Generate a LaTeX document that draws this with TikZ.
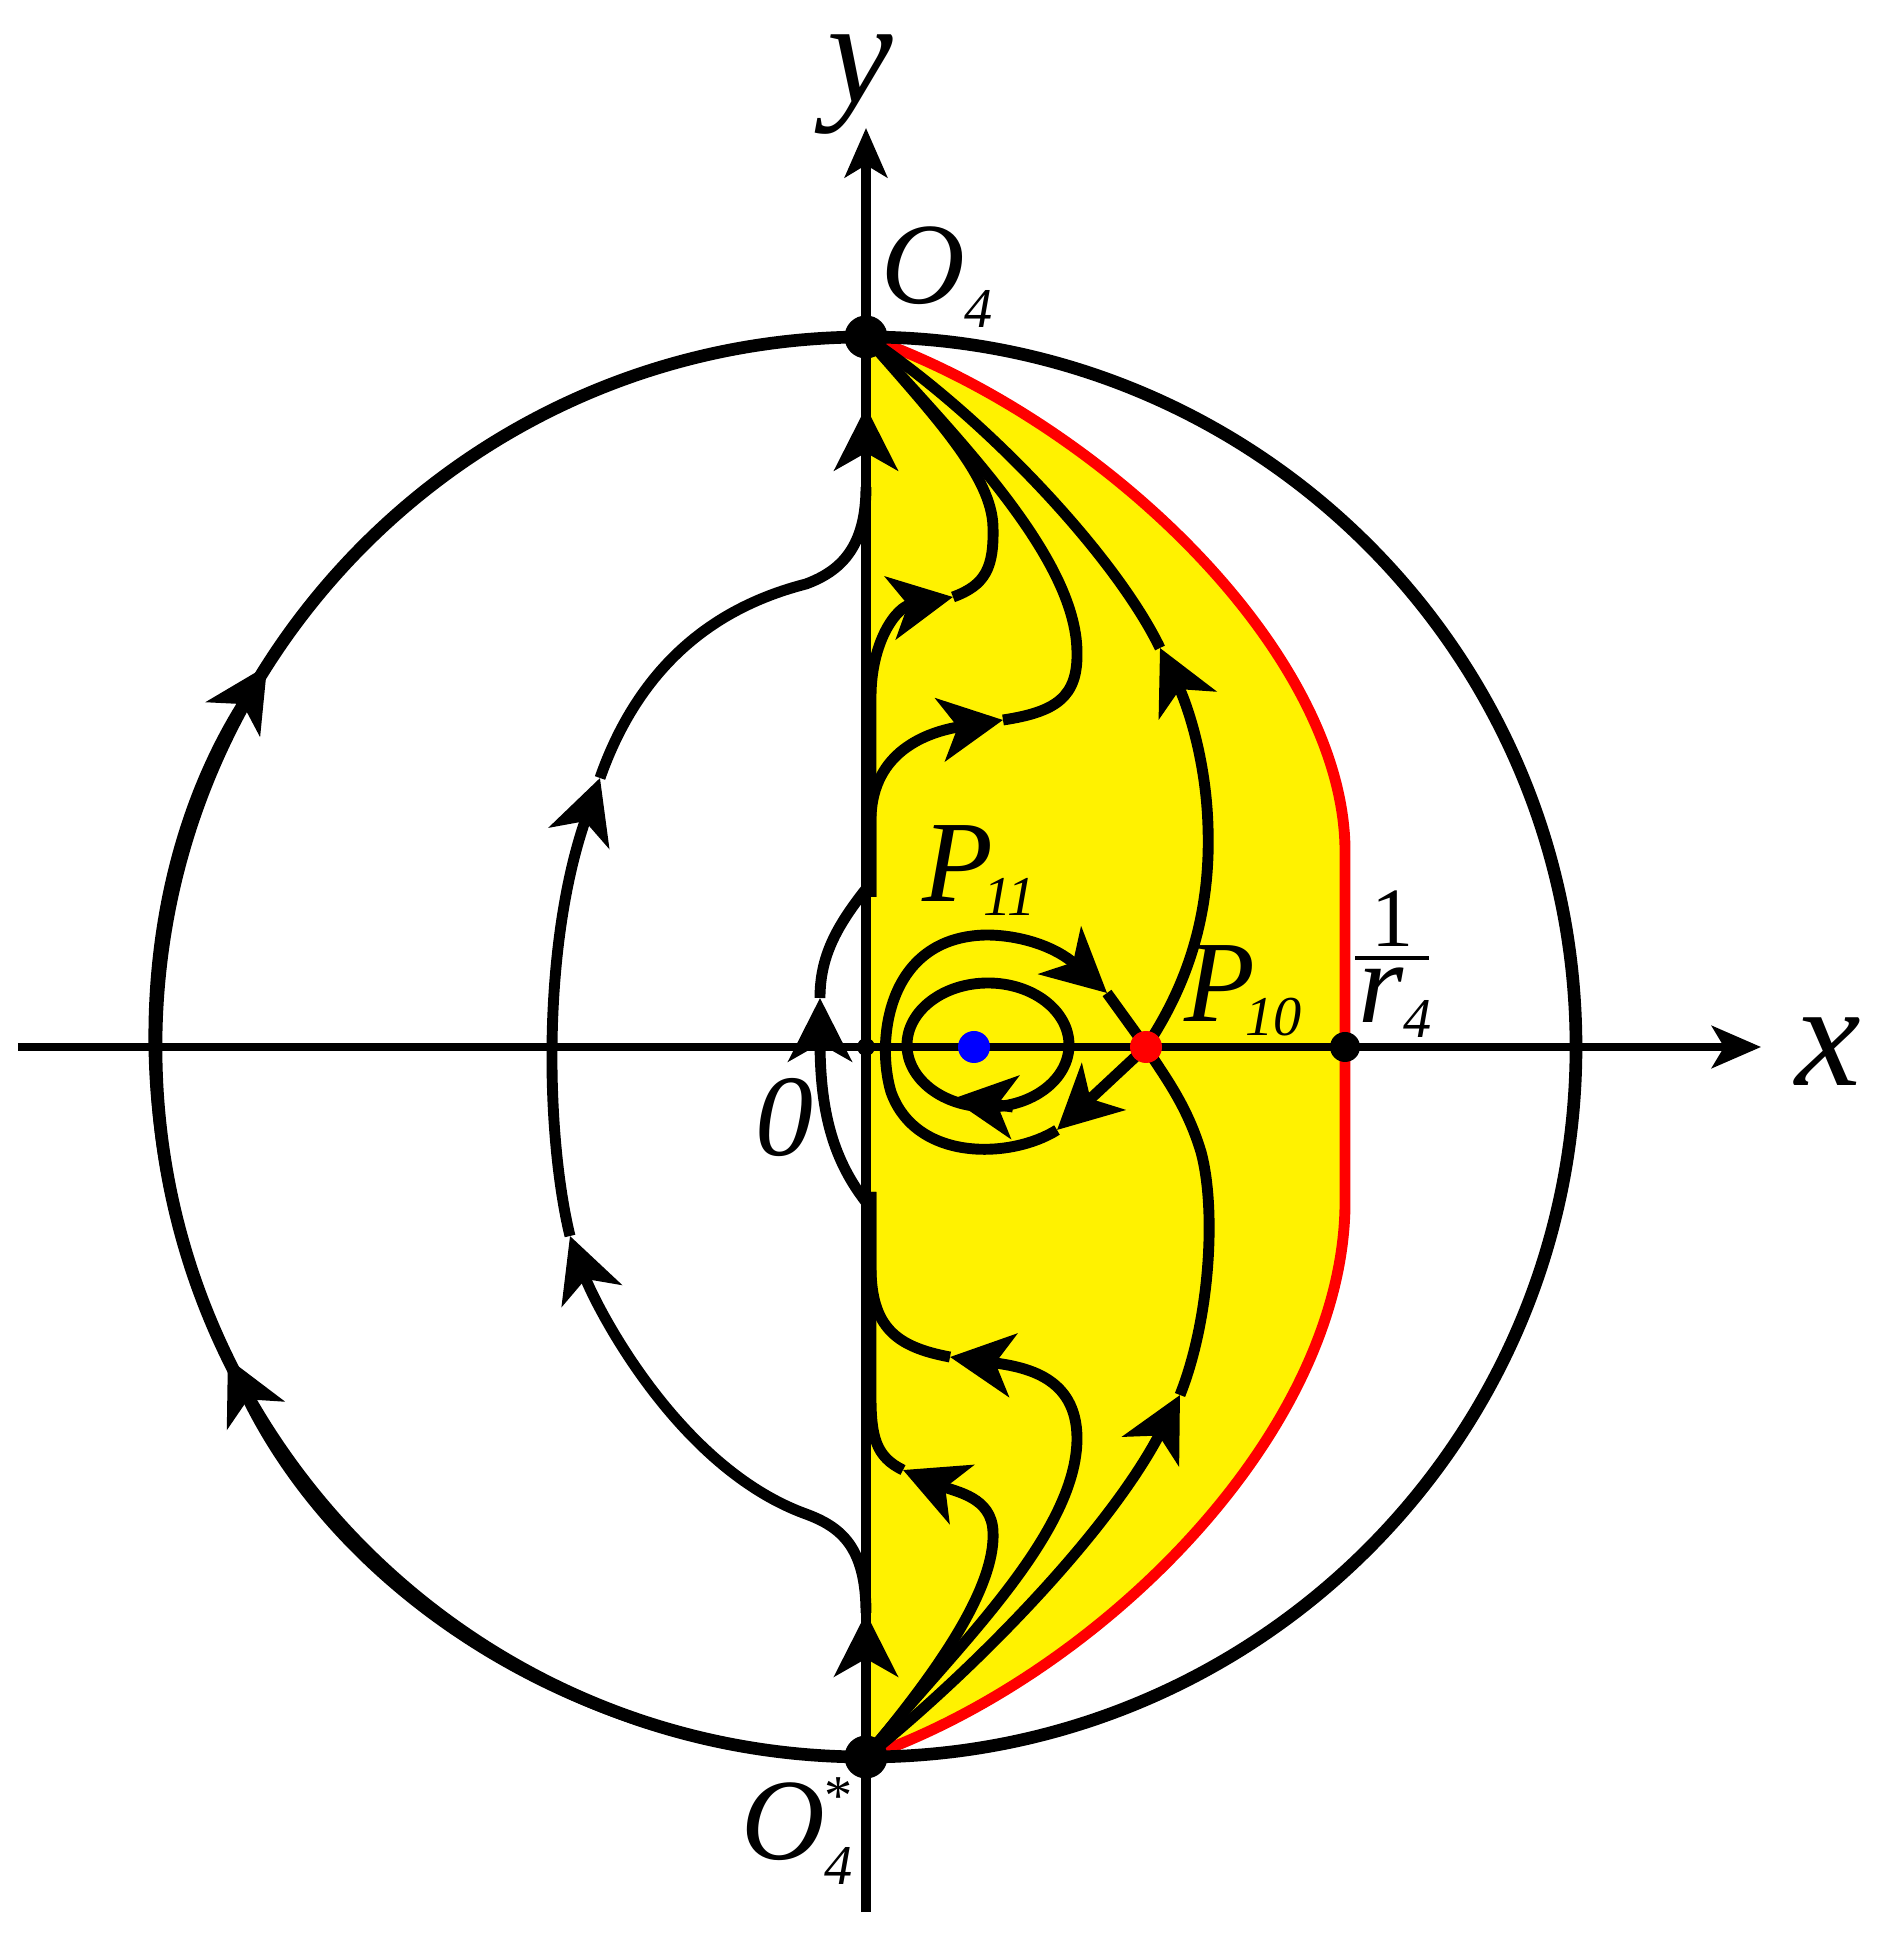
\documentclass[tikz,border=0pt]{standalone}
\usepackage{fontspec}
\setmainfont{Liberation Serif}
\usetikzlibrary{arrows.meta}
\newcommand{\lsub}[2][4pt]{\raisebox{-#1}{\fontsize{16}{16}\selectfont\itshape #2}}
\newcommand{\lsubsup}[2]{\rlap{\raisebox{13pt}{\fontsize{16}{16}\selectfont\upshape #2}}\lsub[7pt]{#1}}

\begin{document}
\begin{tikzpicture}[
  traj/.style={line width=3.1pt},
  tip/.style={-{Stealth[length=18pt,width=18pt,inset=5pt]}},
  axtip/.style={-{Stealth[length=14pt,width=12pt,inset=3.5pt]}},
  lab/.style={font=\fontsize{33}{40}\selectfont\itshape,inner sep=0pt},
  axlab/.style={font=\fontsize{42}{48}\selectfont\itshape,inner sep=0pt},
]
\useasboundingbox (-8.66,-8.88) rectangle (10.11,10.47);
\coordinate (O) at (0,0);
\coordinate (O4) at (0,7.1);
\coordinate (O4s) at (0,-7.1);
\coordinate (P10) at (2.8,0);
\coordinate (P11) at (1.08,0);
\coordinate (R4) at (4.79,0);
% Yellow region and its red border
\fill[yellow] (O4) .. controls (2.3,6.3) and (4.75,4.0) .. (4.79,2.0) -- (4.79,-1.6)
  .. controls (4.75,-3.9) and (2.3,-6.3) .. (O4s) -- cycle;
\draw[red,line width=3.1pt] (O4) .. controls (2.3,6.3) and (4.75,4.0) .. (4.79,2.0) -- (4.79,-1.6)
  .. controls (4.75,-3.9) and (2.3,-6.3) .. (O4s);
% Axes and the circle at infinity
\draw[line width=2.2pt,axtip] (-8.48,0) -- (8.95,0);
\draw[line width=2.8pt,axtip] (0,-8.65) -- (0,9.19);
\draw[line width=3.6pt] (O) circle[radius=7.1];
\draw[traj,tip] (O4s) arc[start angle=270, end angle=206, radius=7.1];
\draw[traj,tip] (206:7.1) arc[start angle=206, end angle=147.5, radius=7.1];
% Orbit on the left
\draw[traj,tip] (0,-5.66) .. controls (0,-5.0) and (-0.25,-4.8) .. (-0.6,-4.67)
  .. controls (-1.9,-4.2) and (-2.72,-2.55) .. (-2.96,-1.89);
\draw[traj,tip] (-2.96,-1.89) .. controls (-3.2,-0.9) and (-3.25,1.0) .. (-2.66,2.69);
\draw[traj] (-2.66,2.69) .. controls (-2.2,4.0) and (-1.3,4.45) .. (-0.6,4.63)
  .. controls (-0.25,4.76) and (0,5.0) .. (0,5.6);
\draw[traj,tip] (O4s) -- (0,-5.66);
\draw[traj,tip] (0,5.6) -- (0,6.40);
\draw[traj] (0,6.40) -- (O4);
% Small bulge round the origin
\draw[traj,tip] (0,-1.55) .. controls (-0.35,-1.1) and (-0.46,-0.6) .. (-0.46,0.49);
\draw[traj] (-0.46,0.49) .. controls (-0.46,0.9) and (-0.3,1.2) .. (0,1.58);
% Upper orbits into O4
\draw[traj,tip] (0.05,1.5) -- (0.05,3.5) .. controls (0.05,4.05) and (0.3,4.4) .. (0.87,4.50);
\draw[traj] (0.87,4.50) .. controls (1.2,4.62) and (1.28,4.8) .. (1.27,5.2)
  .. controls (1.26,5.7) and (0.7,6.3) .. (O4);
\draw[traj,tip] (0.05,1.5) -- (0.05,2.3) .. controls (0.07,2.95) and (0.6,3.15) .. (1.37,3.27);
\draw[traj] (1.37,3.27) .. controls (1.9,3.35) and (2.12,3.5) .. (2.11,3.95)
  .. controls (2.1,4.9) and (0.9,6.1) .. (O4);
\draw[traj,tip] (P10) .. controls (3.2,0.6) and (3.45,1.3) .. (3.42,2.2)
  .. controls (3.40,2.9) and (3.2,3.45) .. (2.94,3.99);
\draw[traj] (2.94,3.99) .. controls (2.5,4.9) and (1.2,6.3) .. (O4);
% Lower orbits out of O4*
\draw[traj,tip] (O4s) .. controls (0.5,-6.5) and (1.3,-5.5) .. (1.27,-4.85)
  .. controls (1.26,-4.5) and (0.9,-4.45) .. (0.37,-4.23);
\draw[traj] (0.37,-4.23) .. controls (0.1,-4.1) and (0.05,-3.9) .. (0.05,-3.5) -- (0.05,-1.45);
\draw[traj,tip] (O4s) .. controls (0.8,-6.1) and (2.12,-4.9) .. (2.11,-3.9)
  .. controls (2.1,-3.3) and (1.6,-3.2) .. (0.84,-3.10);
\draw[traj] (0.84,-3.10) .. controls (0.3,-3.0) and (0.05,-2.8) .. (0.05,-2.2) -- (0.05,-1.45);
\draw[traj,tip] (O4s) .. controls (1.0,-6.3) and (2.4,-4.9) .. (3.14,-3.48);
\draw[traj] (3.14,-3.48) .. controls (3.45,-2.7) and (3.5,-1.6) .. (3.35,-1.05)
  .. controls (3.2,-0.55) and (2.95,-0.25) .. (P10);
% Saddle loop and the cycle round P11
\draw[traj,tip] (P10) -- (1.91,-0.83);
\draw[traj,tip] (1.91,-0.83) .. controls (1.45,-1.12) and (0.5,-1.15) .. (0.25,-0.45)
  .. controls (0.1,0.05) and (0.2,1.1) .. (1.2,1.12)
  .. controls (1.55,1.12) and (1.9,1.0) .. (2.41,0.54);
\draw[traj] (2.41,0.54) -- (P10);
\draw[traj] (1.22,0.02) ellipse[x radius=0.81, y radius=0.62];
\draw[traj,tip] (1.47,-0.60) -- (0.86,-0.52);
% Points
\fill (O4) circle[radius=0.215];
\fill (O4s) circle[radius=0.215];
\fill (R4) circle[radius=0.15];
\fill (O) circle[radius=0.09];
\fill[red] (P10) circle[radius=0.16];
\fill[blue] (P11) circle[radius=0.16];
% Labels
\node[axlab] (ly) at (-0.06,9.62) {y};
\node[axlab] (lx) at (9.62,-0.05) {x};
\node[lab] (lO4) at (0.71,7.70) {O\lsub[7pt]{4}};
\node[lab] (lO4s) at (-0.69,-7.84) {O\lsubsup{4}{*}};
\node[lab] (l0) at (-0.82,-0.71) {0};
\node[lab] (lP11) at (1.13,1.76) {P\kern-3pt\lsub{11}};
\node[lab] (lP10) at (3.77,0.56) {P\kern-3pt\lsub{10}};
\node[font=\fontsize{24}{24}\selectfont,inner sep=0pt,anchor=base] (lone) at (5.27,1.00) {1};
\draw[line width=1.4pt] (4.89,0.89) -- (5.63,0.89);
\node[lab,anchor=base] (lr4) at (5.29,0.24) {r\lsub{4}};
\end{tikzpicture}
\end{document}
